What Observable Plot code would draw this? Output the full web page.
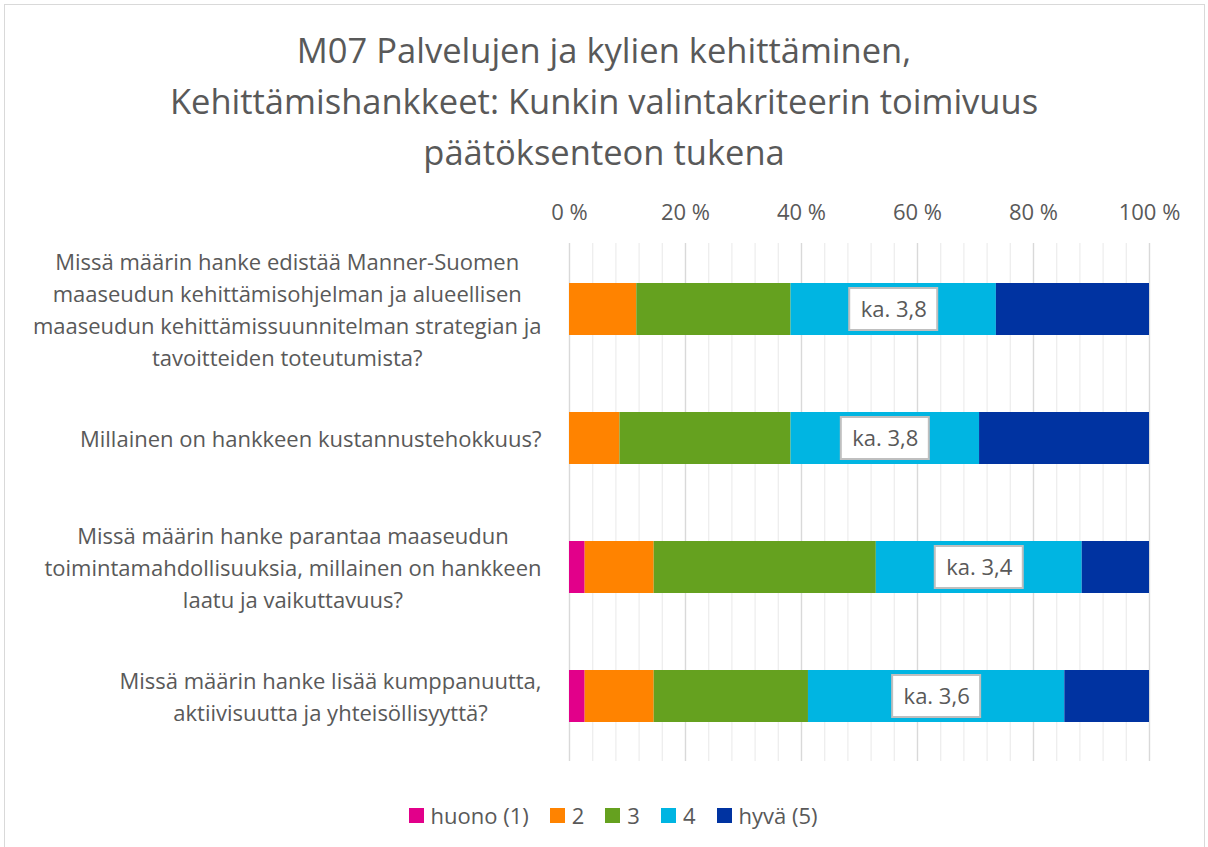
<!DOCTYPE html>
<html>
<head>
<meta charset="utf-8">
<script src="https://cdn.jsdelivr.net/npm/d3@7"></script>
<script src="https://cdn.jsdelivr.net/npm/@observablehq/plot@0.6"></script>
<style>
  html, body { margin: 0; padding: 0; background: #fff; }
  #wrap { position: relative; width: 1208px; height: 847px; font-family: "Open Sans", sans-serif; color: #595959; overflow: hidden; }
  #frame { position: absolute; left: 4px; top: 4px; width: 1201px; height: 860px; border: 1px solid #d9d9d9; box-sizing: border-box; }
  #title { position: relative; height: 180px; box-sizing: border-box; padding-top: 24px; text-align: center; font-size: 34.5px; line-height: 51px; color: #595959; }
  #legend { position: relative; display: flex; justify-content: center; align-items: center; height: 70px; padding-left: 18px; box-sizing: border-box; font-size: 22px; color: #595959; }
  .item { display: flex; align-items: center; margin: 0 10.5px; }
  .sw { width: 15px; height: 15px; margin-right: 7px; }
</style>
</head>
<body>
<div id="wrap">
  <div id="frame"></div>
  <div id="title"></div>
  <div id="plot"></div>
  <div id="legend"></div>
</div>
<script>
const titleLines = [
  "M07 Palvelujen ja kylien kehittäminen,",
  "Kehittämishankkeet: Kunkin valintakriteerin toimivuus",
  "päätöksenteon tukena"
];
const questions = [
  "Missä määrin hanke edistää Manner-Suomen\nmaaseudun kehittämisohjelman ja alueellisen\nmaaseudun kehittämissuunnitelman strategian ja\ntavoitteiden toteutumista?",
  "Millainen on hankkeen kustannustehokkuus?",
  "Missä määrin hanke parantaa maaseudun\ntoimintamahdollisuuksia, millainen on hankkeen\nlaatu ja vaikuttavuus?",
  "Missä määrin hanke lisää kumppanuutta,\naktiivisuutta ja yhteisöllisyyttä?"
];
const categories = ["huono (1)", "2", "3", "4", "hyvä (5)"];
const colors = ["#E2008A", "#FF8300", "#65A11F", "#00B5E2", "#0033A1"];
// percent shares per question, in category order
const s1 = [0, 0, 2.7, 2.7];        // huono (1)
const s2 = [11.6, 8.7, 11.9, 11.9]; // 2
const s3 = [26.6, 29.5, 38.3, 26.6];// 3
const s4 = [35.4, 32.5, 35.5, 44.2];// 4
const s5 = [26.4, 29.3, 11.6, 14.6];// hyvä (5)
const means = [3.8, 3.8, 3.4, 3.6];
const xTicks = [0, 20, 40, 60, 80, 100];

document.getElementById("title").innerHTML = titleLines.map(t => `<div>${t}</div>`).join("");

const series = [s1, s2, s3, s4, s5];
const rows = [];
questions.forEach((q, i) => {
  categories.forEach((c, j) => rows.push({question: q, category: c, value: series[j][i]}));
});
const labels = questions.map((q, i) => ({
  question: q,
  cx: s1[i] + s2[i] + s3[i] + s4[i] / 2,
  text: "ka. " + String(means[i].toFixed(1)).replace(".", ",")
}));

// category labels: each wrapped block right-aligned next to the axis, lines centred within the block
const marginLeft = 569;
const labelRight = 541;
const ctx = document.createElement("canvas").getContext("2d");
ctx.font = "22px 'Open Sans'";
const labelMarks = questions.map(q => {
  const w = d3.max(q.split("\n"), line => ctx.measureText(line).width);
  const dx = (labelRight - w / 2) - marginLeft;
  return Plot.text([q], {y: d => d, text: d => d, frameAnchor: "left", dx, dy: -2, textAnchor: "middle", fontSize: 22, lineHeight: 1.45, fill: "#595959"});
});

const chart = Plot.plot({
  width: 1208,
  height: 600,
  marginLeft,
  marginRight: 59,
  marginTop: 63,
  marginBottom: 19,
  style: {fontFamily: "Open Sans, sans-serif", color: "#595959", background: "transparent"},
  x: {domain: [0, 100], axis: null},
  y: {domain: questions, axis: null, paddingInner: 0.6, paddingOuter: 0.3},
  color: {domain: categories, range: colors},
  marks: [
    Plot.ruleX(d3.range(0, 101, 4), {stroke: "#eeeeee", strokeWidth: 1.3}),
    Plot.ruleX(xTicks, {stroke: "#d9d9d9", strokeWidth: 1.3}),
    Plot.axisX({anchor: "top", ticks: xTicks, tickFormat: d => `${d} %`, tickSize: 0, tickPadding: 24, fontSize: 22, fill: "#595959"}),
    Plot.barX(rows, {x: "value", y: "question", fill: "category", order: categories}),
    Plot.barX(labels, {x1: "cx", x2: "cx", y: "question", insetLeft: -44, insetRight: -44, insetTop: 5, insetBottom: 5, fill: "white", stroke: "#bfbfbf", strokeWidth: 2}),
    Plot.text(labels, {x: "cx", y: "question", text: "text", fontSize: 22, fill: "#595959"}),
    ...labelMarks
  ]
});
document.getElementById("plot").appendChild(chart);

document.getElementById("legend").innerHTML = categories.map((c, i) =>
  `<div class="item"><div class="sw" style="background:${colors[i]}"></div><span>${c}</span></div>`).join("");
</script>
</body>
</html>
